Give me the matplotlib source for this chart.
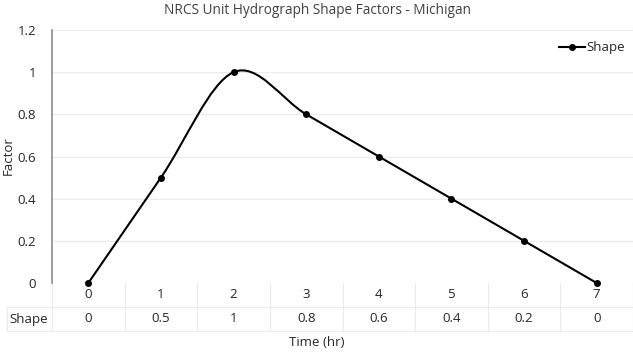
import numpy as np
import matplotlib.pyplot as plt
from matplotlib.path import Path
from matplotlib.patches import PathPatch
from matplotlib.lines import Line2D

plt.rcParams['font.family'] = ['Open Sans', 'DejaVu Sans']

# data
time_hr = [0, 1, 2, 3, 4, 5, 6, 7]
shape = [0, 0.5, 1, 0.8, 0.6, 0.4, 0.2, 0]
shape_labels = ['0', '0.5', '1', '0.8', '0.6', '0.4', '0.2', '0']
y_ticks = [0, 0.2, 0.4, 0.6, 0.8, 1.0, 1.2]
y_labels = ['0', '0.2', '0.4', '0.6', '0.8', '1', '1.2']

W, H = 633, 352
fig = plt.figure(figsize=(W / 100, H / 100), dpi=100)
ax = fig.add_axes([52 / W, 1 - 283 / H, (W - 52) / W, (283 - 30) / H])

grid_c = '#EBEBEB'
text_c = '#262626'

ax.set_xlim(-0.5, len(time_hr) - 0.5)
ax.set_ylim(0, 1.2)
for s in ['top', 'right', 'bottom']:
    ax.spines[s].set_visible(False)
ax.spines['left'].set_color('#8C8C8C')
ax.spines['left'].set_linewidth(1.2)
ax.set_yticks(y_ticks)
ax.set_yticklabels(y_labels)
ax.tick_params(axis='y', length=0, pad=11.5, labelsize=9.5, colors=text_c)
ax.set_xticks([])
for v in y_ticks:
    ax.axhline(v, color=grid_c, lw=0.8, zorder=0)

# smoothed line (Excel style bezier through the points)
pts = np.column_stack([time_hr, shape]).astype(float)
verts = [pts[0]]
codes = [Path.MOVETO]
n = len(pts)
for i in range(n - 1):
    p0 = pts[max(i - 1, 0)]
    p1 = pts[i]
    p2 = pts[i + 1]
    p3 = pts[min(i + 2, n - 1)]
    c1 = p1 + (p2 - p0) / 6
    c2 = p2 - (p3 - p1) / 6
    verts += [c1, c2, p2]
    codes += [Path.CURVE4] * 3
ax.add_patch(PathPatch(Path(verts, codes), fill=False, ec='black', lw=1.5,
                       clip_on=False, zorder=3))
ax.plot(time_hr, shape, 'o', color='black', ms=4, clip_on=False, zorder=4)

# data table below the axis
fx = lambda px: px / W
fy = lambda py: 1 - py / H
bounds = [52 + (W - 52) * k / len(time_hr) for k in range(len(time_hr) + 1)]
for k, b in enumerate(bounds):
    top = 30 if k > 0 else 283
    fig.add_artist(Line2D([fx(b), fx(b)], [fy(top), fy(331)], color=grid_c, lw=0.8, zorder=0))
fig.add_artist(Line2D([fx(7), fx(7)], [fy(307), fy(331)], color=grid_c, lw=0.8))
fig.add_artist(Line2D([fx(7), fx(W)], [fy(307), fy(307)], color=grid_c, lw=0.8))
fig.add_artist(Line2D([fx(7), fx(W)], [fy(331), fy(331)], color=grid_c, lw=0.8))
for i, t in enumerate(time_hr):
    cx = (bounds[i] + bounds[i + 1]) / 2
    fig.text(fx(cx), fy(295), str(t), ha='center', va='center', fontsize=9.5, color=text_c)
    fig.text(fx(cx), fy(319), shape_labels[i], ha='center', va='center', fontsize=9.5, color=text_c)
fig.text(fx(29), fy(319), 'Shape', ha='center', va='center', fontsize=9.5, color=text_c)

fig.text(fx(317), fy(342), 'Time (hr)', ha='center', va='center', fontsize=9.5, color=text_c)
fig.text(fx(8), fy(156), 'Factor', ha='center', va='center', rotation=90, fontsize=9.5, color=text_c)
fig.text(fx(317), fy(11), 'NRCS Unit Hydrograph Shape Factors - Michigan',
         ha='center', va='center', fontsize=9.8, color='#404040')

ax.legend([Line2D([], [], color='black', lw=1.5, marker='o', ms=4)], ['Shape'],
          loc='center', bbox_to_anchor=(fx(592), fy(48)), bbox_transform=fig.transFigure,
          frameon=False, fontsize=9.5, handlelength=2.0, handletextpad=0.15,
          labelcolor=text_c)

fig.savefig('out.png', dpi=100)
